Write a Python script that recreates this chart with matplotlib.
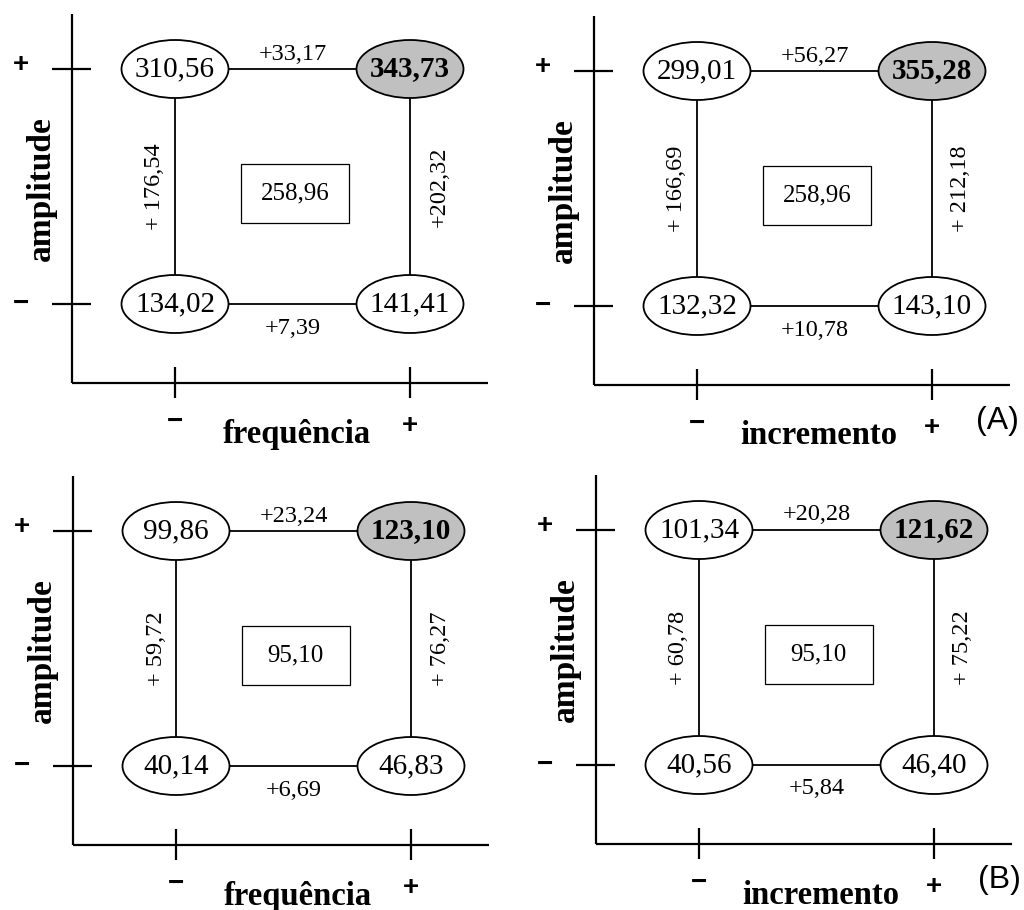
import matplotlib
matplotlib.use("Agg")
import matplotlib.pyplot as plt
from matplotlib.patches import Ellipse, Rectangle

# two-level factors: 0 = "−", 1 = "+"
levels = [0, 1]
level_labels = ["\u2212", "+"]

# corner means, order: (x-, y-), (x+, y-), (x-, y+), (x+, y+)
freq_a = [134.02, 141.41, 310.56, 343.73]
incr_a = [132.32, 143.10, 299.01, 355.28]
freq_b = [40.14, 46.83, 99.86, 123.10]
incr_b = [40.56, 46.40, 101.34, 121.62]

# value in the centre box
center_a = 258.96
center_b = 95.10

# effects written along the edges: top, bottom, left, right
freq_a_eff = [33.17, 7.39, 176.54, 202.32]
incr_a_eff = [56.27, 10.78, 166.69, 212.18]
freq_b_eff = [23.24, 6.69, 59.72, 76.27]
incr_b_eff = [20.28, 5.84, 60.78, 75.22]

y_name = "amplitude"
x_names = ["frequência", "incremento"]
tags = ["(A)", "(B)"]

W, H = 1024, 910
U = 235.0  # pixels per level step
SERIF = "Liberation Serif"
SANS = ["Liberation Sans", "DejaVu Sans"]


def fmt(v, sep=""):
    return "+" + sep + f"{v:.2f}".replace(".", ",")


def panel(fig, ox, oy, vals, center, eff, right_sep, xname, tag=None):
    # ox, oy: pixel position of the axis corner (from top-left)
    L, R, T, B = ox - 80, ox + 430, oy - 390, oy + 70
    ax = fig.add_axes([L / W, 1 - B / H, (R - L) / W, (B - T) / H])
    x0, y0 = ox + 103, oy - 79
    ax.set_xlim((L - x0) / U, (R - x0) / U)
    ax.set_ylim((y0 - B) / U, (y0 - T) / U)
    ax.axis("off")

    axx, axy = (ox - x0) / U, (y0 - oy) / U
    lk = dict(color="black", lw=1.6, solid_capstyle="butt", clip_on=False)
    ax.plot([axx, axx], [axy, axy + 369 / U], **lk)
    ax.plot([axx, axx + 416 / U], [axy, axy], **lk)
    for lv, lab in zip(levels, level_labels):
        ax.plot([axx - 20 / U, axx + 19 / U], [lv, lv], **lk)
        ax.plot([lv, lv], [axy - 15 / U, axy + 16 / U], **lk)
        dy = 4 / U if lab == "+" else 0
        ax.text(axx - 51 / U, lv + dy, lab, family=SANS, fontweight="bold",
                fontsize=20, ha="center", va="center")
        ax.text(lv, axy - 39 / U - dy, lab, family=SANS, fontweight="bold",
                fontsize=20, ha="center", va="center")

    ax.text(axx - 31 / U, 0.49, y_name, family=SERIF, fontweight="bold",
            fontsize=24, rotation=90, ha="center", va="center")
    ax.text(0.52, axy - 51 / U, xname, family=SERIF, fontweight="bold",
            fontsize=23.5, ha="center", va="center", clip_on=False)
    if tag:
        ax.text(1.28, axy - 36 / U, tag, family=SANS, fontsize=23,
                ha="center", va="center")

    # square edges
    ek = dict(color="black", lw=1.3, zorder=1)
    for lv in levels:
        ax.plot(levels, [lv, lv], **ek)
        ax.plot([lv, lv], levels, **ek)

    corners = [(levels[0], levels[0]), (levels[1], levels[0]),
               (levels[0], levels[1]), (levels[1], levels[1])]
    for i, ((cx, cy), v) in enumerate(zip(corners, vals)):
        best = i == 3
        ax.add_patch(Ellipse((cx, cy), 107 / U, 58 / U, lw=1.3,
                             edgecolor="black",
                             facecolor="#c0c0c0" if best else "white",
                             zorder=2))
        ax.text(cx, cy, f"{v:.2f}".replace(".", ","), family=SERIF,
                fontsize=21, fontweight="bold" if best else "normal",
                ha="center", va="center", zorder=3)

    ax.add_patch(Rectangle((0.51 - 54 / U, 0.472 - 29.5 / U), 108 / U, 59 / U,
                           fill=False, lw=0.9, edgecolor="black"))
    ax.text(0.51, 0.472, f"{center:.2f}".replace(".", ","), family=SERIF,
            fontsize=18, ha="center", va="center")

    tk = dict(family=SERIF, fontsize=17.5, ha="center", va="center")
    ax.text(0.5, 1 + 15 / U, fmt(eff[0]), **tk)
    ax.text(0.5, -24 / U, fmt(eff[1]), **tk)
    ax.text(-20 / U, 0.5, fmt(eff[2], " "), rotation=90, **tk)
    ax.text(1 + 29 / U, 0.5, fmt(eff[3], right_sep), rotation=90, **tk)


fig = plt.figure(figsize=(W / 100, H / 100), dpi=100)
panel(fig, 72, 383, freq_a, center_a, freq_a_eff, "", x_names[0])
panel(fig, 594, 385, incr_a, center_a, incr_a_eff, " ", x_names[1], tags[0])
panel(fig, 73, 845, freq_b, center_b, freq_b_eff, " ", x_names[0])
panel(fig, 596, 844, incr_b, center_b, incr_b_eff, " ", x_names[1], tags[1])
fig.savefig("out.png", dpi=100)
